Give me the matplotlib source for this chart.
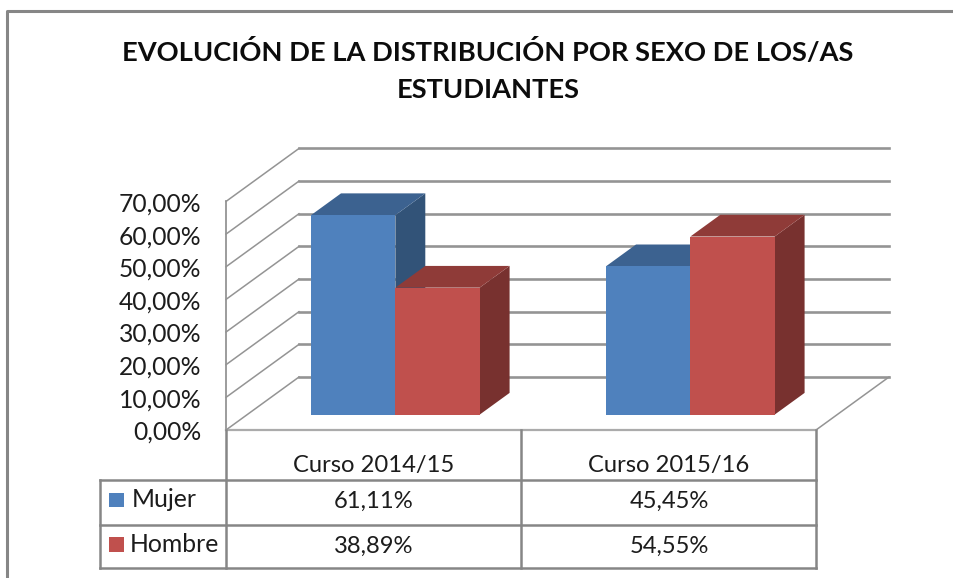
import matplotlib
matplotlib.use("Agg")
import matplotlib.pyplot as plt
from matplotlib.patches import Polygon, Rectangle

# ---- data ----
categories = ["Curso 2014/15", "Curso 2015/16"]
series_names = ["Mujer", "Hombre"]
mujer = [61.11, 45.45]
hombre = [38.89, 54.55]
y_ticks = [0, 10, 20, 30, 40, 50, 60, 70]
title_lines = ["EVOLUCIÓN DE LA DISTRIBUCIÓN POR SEXO DE LOS/AS", "ESTUDIANTES"]


def pct(v):
    return f"{v:.2f}%".replace(".", ",")


FONT = "Lato"
GRID = "#949494"
LINE = "#868686"
TEXT = "#1c1c1c"
FRONT = {"Mujer": "#4f81bd", "Hombre": "#c0504d"}
TOP = {"Mujer": "#3c6290", "Hombre": "#8f3b38"}
SIDE = {"Mujer": "#325378", "Hombre": "#78312f"}

W, H = 954, 578
fig = plt.figure(figsize=(W / 100, H / 100), dpi=100, facecolor="white")
ax = fig.add_axes([0, 0, 1, 1])
ax.set_xlim(0, W)
ax.set_ylim(H, 0)
ax.axis("off")

# ---- projection from chart space to the page ----
X0, X1 = 226.0, 816.0   # floor front edge
Y0 = 430.0              # floor front edge level
UNIT = 3.265            # page px per percentage point
DX, DY = 73.0, -53.0    # full depth of the 3D box
n_cat = len(categories)
cat_w = (X1 - X0) / n_cat
bar_w = cat_w / 3.5     # two bars plus a 150 % gap
D0, D1 = 0.29, 0.70     # depth range of the bars
BAR_SHIFT = 0.7


def proj(x, v, d=0.0):
    return (x + DX * d, Y0 - v * UNIT + DY * d)


# ---- walls ----
for t in y_ticks:
    ax.plot(*zip(proj(X0, t), proj(X0, t, 1)), color=GRID, lw=1.1, zorder=1)
    ax.plot(*zip(proj(X0, t, 1), proj(X1, t, 1)), color=GRID, lw=1.9, zorder=1)
ax.plot(*zip(proj(X0, 0), proj(X0, y_ticks[-1])), color=GRID, lw=1.3, zorder=1)
ax.plot(*zip(proj(X1, 0), proj(X1, 0, 1)), color=GRID, lw=1.1, zorder=1)
ax.plot(*zip(proj(X0, 0), proj(X1, 0)), color="#ababab", lw=1.6, zorder=1)

# ---- bars ----
for i in range(n_cat):
    left = X0 + cat_w * i + (cat_w - 2 * bar_w) / 2 + BAR_SHIFT
    for j, (name, vals) in enumerate(zip(series_names, [mujer, hombre])):
        a, b = left + j * bar_w, left + (j + 1) * bar_w
        v = vals[i]
        z = 3 + j
        ax.add_patch(Polygon([proj(b, 0, D0), proj(b, 0, D1), proj(b, v, D1), proj(b, v, D0)],
                             fc=SIDE[name], ec="none", zorder=z))
        ax.add_patch(Polygon([proj(a, v, D0), proj(b, v, D0), proj(b, v, D1), proj(a, v, D1)],
                             fc=TOP[name], ec="none", zorder=z))
        ax.add_patch(Polygon([proj(a, 0, D0), proj(b, 0, D0), proj(b, v, D0), proj(a, v, D0)],
                             fc=FRONT[name], ec="none", zorder=z))

# ---- y tick labels ----
for t in y_ticks:
    x, y = proj(X0, t)
    ax.text(201.5, y + 10, pct(t), ha="right", va="baseline",
            fontsize=17.7, family=FONT, color=TEXT, zorder=6)

# ---- data table ----
T_L = 100.0
ROWS = [Y0, 480.0, 525.0, 568.0]
for y in ROWS[1:]:
    ax.plot([T_L, X1], [y, y], color=LINE, lw=1.8, zorder=2)
ax.plot([T_L, T_L], [ROWS[1], ROWS[3]], color=LINE, lw=1.8, zorder=2)
for i in range(n_cat + 1):
    xx = X0 + cat_w * i
    ax.plot([xx, xx], [ROWS[0], ROWS[3]], color=LINE, lw=1.8, zorder=2)

for i, c in enumerate(categories):
    xc = X0 + cat_w * (i + 0.5) + 0.5
    ax.text(xc, 471.7, c, ha="center", va="baseline",
            fontsize=17.1, family=FONT, color=TEXT)
    ax.text(xc, 508.3, pct(mujer[i]), ha="center", va="baseline",
            fontsize=17.1, family=FONT, color=TEXT)
    ax.text(xc, 553.3, pct(hombre[i]), ha="center", va="baseline",
            fontsize=17.1, family=FONT, color=TEXT)

legend_base = [507.3, 551.7]
legend_x = [131.5, 130.0]
for r, name in enumerate(series_names):
    ax.add_patch(Rectangle((109, legend_base[r] - 14.5), 15, 14.5, fc=FRONT[name], ec="none", zorder=3))
    ax.text(legend_x[r], legend_base[r], name, ha="left", va="baseline", fontsize=17.8,
            family=FONT, color=TEXT)

# ---- title ----
ax.text(487.5, 61, title_lines[0], ha="center", va="baseline", fontsize=19.6,
        family=FONT, fontweight="bold", color="#0c0c0c")
ax.text(488, 98, title_lines[1], ha="center", va="baseline", fontsize=19.6,
        family=FONT, fontweight="bold", color="#0c0c0c")

# ---- outer frame ----
ax.plot([7.5, 7.5, W], [H, 10.5, 10.5], color=LINE, lw=2.2, zorder=2)

fig.savefig("out.png", dpi=100)
